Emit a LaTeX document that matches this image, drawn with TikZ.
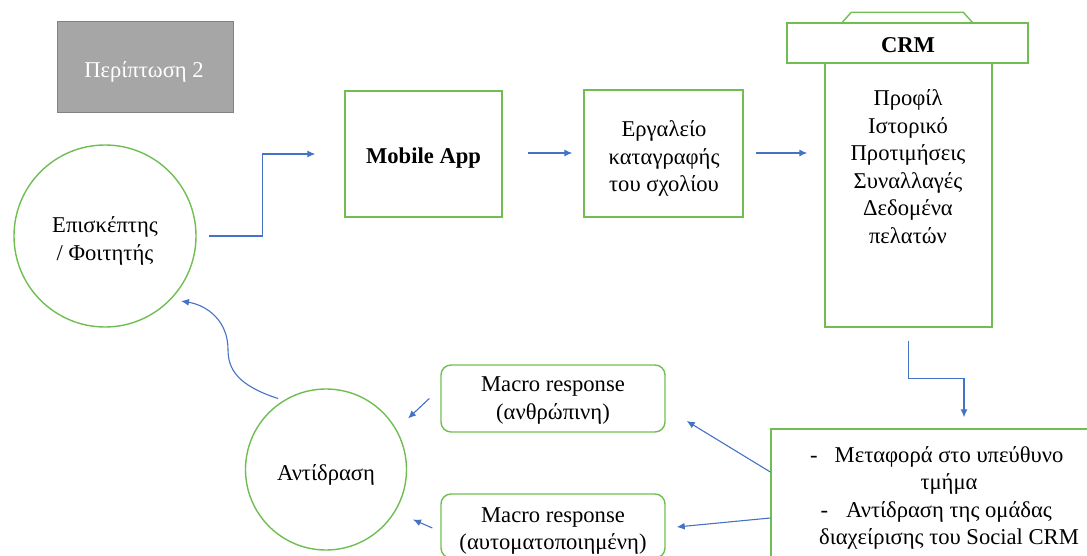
\documentclass[tikz,border=0pt]{standalone}
\usepackage{fontspec}
\setmainfont{Liberation Serif}
\usetikzlibrary{arrows.meta,calc}

\definecolor{boxgreen}{RGB}{112,190,82}
\definecolor{flowblue}{RGB}{68,114,196}
\definecolor{tagfill}{RGB}{166,166,166}
\definecolor{tagline}{RGB}{130,130,130}

\tikzset{
  txt/.style={font=\fontsize{22.6}{27.5}\selectfont, align=center, inner sep=0pt},
  btxt/.style={txt, font=\fontsize{22.6}{27.5}\selectfont\bfseries},
  gbox/.style={draw=boxgreen, line width=1.4pt, rectangle, inner sep=0pt},
  rbox/.style={gbox, rounded corners=10pt},
  gcirc/.style={draw=boxgreen, line width=1.4pt, circle, inner sep=0pt},
  arr/.style={draw=flowblue, line width=1.1pt, -{Latex[length=8pt,width=7pt]}},
}

\begin{document}
\begin{tikzpicture}[x=1pt,y=-1pt]
\useasboundingbox (0,0) rectangle (1087,556);

% case label
\node[rectangle, fill=tagfill, draw=tagline, line width=1pt,
      minimum width=176, minimum height=91] (tag) at (145,67.5) {};
\node[txt, text=white] (tagtext) at (144,72) {Περίπτωση 2};

% visitor circle
\node[gcirc, minimum size=182] (vis) at (105,236) {};
\node[txt, font=\fontsize{22.6}{28}\selectfont] (vistext) at (105,241) {Επισκέπτης\\/ Φοιτητής};

% upper flow
\node[gbox, minimum width=157, minimum height=126] (app) at (423.5,154) {};
\node[btxt] (apptext) at (423.5,158) {Mobile App};
\node[gbox, minimum width=159, minimum height=127] (tool) at (663.5,153.5) {};
\node[txt] (tooltext) at (664,158.5) {Εργαλείο\\καταγραφής\\του σχολίου};

% CRM store
\node[gbox, minimum width=167, minimum height=264] (crmbody) at (908.5,195) {};
\node[gbox, minimum width=241, minimum height=40] (crmhead) at (907.5,43) {};
\draw[draw=boxgreen, line width=1.4pt] ($(crmhead.north west)+(56,0)$) -- ++(9,-10) -- ++(112,0) -- ++(9,10);
\node[btxt] (crmtitle) at (908,45.5) {CRM};
\node[txt] (crmtext) at (908,166.5) {Προφίλ\\Ιστορικό\\Προτιμήσεις\\Συναλλαγές\\Δεδομένα\\πελατών};

% handling department
\node[gbox, minimum width=356, minimum height=152] (action) at (949,505) {};
\node[txt] (actiontext) at (949,498) {\llap{-\hspace{17pt}}Μεταφορά στο υπεύθυνο\\τμήμα\\\llap{-\hspace{18pt}}Αντίδραση της ομάδας\\διαχείρισης του Social CRM};

% responses
\node[rbox, minimum width=224, minimum height=67] (mh) at (553,398.5) {};
\node[txt] (mhtext) at (553,400.5) {Macro response\\(ανθρώπινη)};
\node[rbox, minimum width=224, minimum height=64] (ma) at (553,526) {};
\node[txt] (matext) at (553,531) {Macro response\\(αυτοματοποιημένη)};

% reaction circle
\node[gcirc, minimum size=161] (react) at (326,469.5) {};
\node[txt] (reacttext) at (326,475) {Αντίδραση};

% connectors
\draw[arr, shorten <=12pt, shorten >=29pt] (vis.east) -- ++(66,0) |- (app.west);
\draw[arr] ($(app.east)+(25,-1)$) -- ($(tool.west)+(-11,-0.5)$);
\draw[arr] ($(tool.east)+(12,-0.5)$) -- ($(crmbody.west)+(-17,-42)$);
\draw[arr, shorten <=13pt, shorten >=11pt] (crmbody.south) -- ++(0,51) -| ([xshift=15pt]action.north);
\draw[arr] ($(action.west)+(0,-33)$) -- ($(mh.east)+(21,22.5)$);
\draw[arr] ($(action.west)+(0,13)$) -- ($(ma.east)+(11,1)$);
\draw[arr] ($(mh.west)+(-11,0)$) -- ($(react.center)+(82,-51)$);
\draw[arr] ($(ma.west)+(-8,2)$) -- ($(react.center)+(87,50)$);
\draw[arr] ($(react.center)+(-48,-71)$) .. controls ($(react.center)+(-88,-84)$) and ($(react.center)+(-98,-100)$) .. ($(react.center)+(-98,-120)$)
   .. controls ($(react.center)+(-98,-148)$) and ($(react.center)+(-118,-164)$) .. ($(vis.center)+(76,65)$);
\end{tikzpicture}
\end{document}
